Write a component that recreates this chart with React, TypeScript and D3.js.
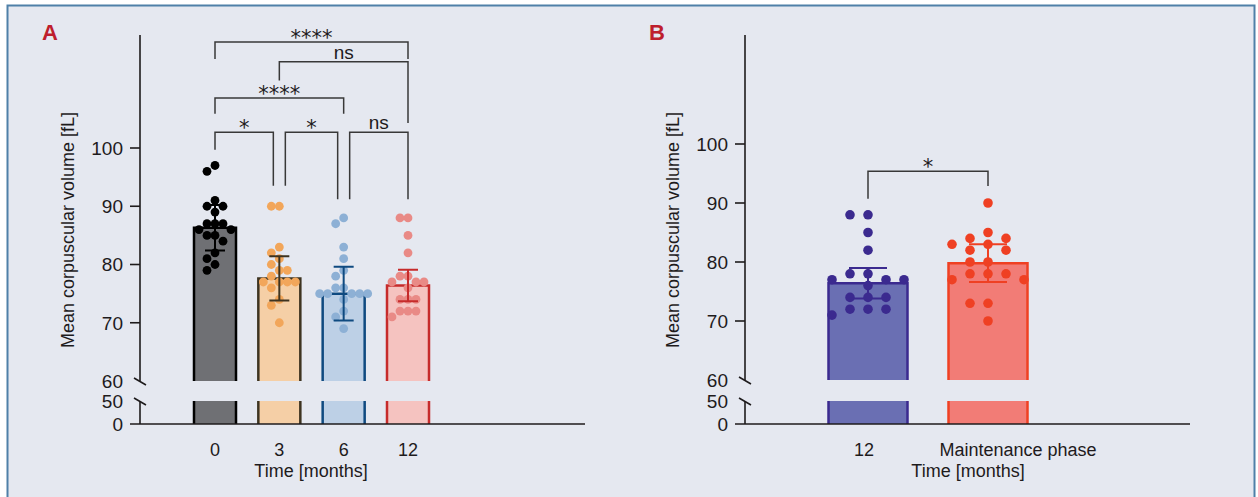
import React from 'react';
import * as d3 from 'd3';

// ---- data (MCV, fL) ----
const groupsA = ['0', '3', '6', '12'];
const mcvMonth0 = [97, 96, 91, 90, 90, 89, 87, 87, 87, 86, 86, 85, 85, 84, 82, 81, 80, 79];
const mcvMonth3 = [90, 90, 83, 82, 81, 80, 79, 79, 78, 77, 77, 77, 77, 76, 74, 73, 70];
const mcvMonth6 = [88, 87, 83, 81, 79, 78, 76, 76, 75, 75, 75, 75, 75, 74, 72, 71, 69];
const mcvMonth12 = [88, 88, 85, 82, 78, 78, 77, 77, 77, 76, 74, 74, 74, 72, 72, 72, 71];
const meansA = [86.3, 77.6, 75.0, 76.4];
const sdA = [3.9, 3.8, 4.6, 2.7];

const groupsB = ['12', 'Maintenance phase'];
const mcvMaintenance = [90, 85, 84, 84, 83, 83, 82, 82, 80, 80, 78, 78, 78, 77, 77, 73, 73, 70];
const meansB = [76.4, 79.8];
const sdB = [2.6, 3.2];

const ticksUpper = [60, 70, 80, 90, 100];
const ticksLower = [0, 50];

// significance brackets: pair of groups, label, bar height and leg ends (fL)
const compPairsA = [[0, 3], [1, 3], [0, 2], [0, 1], [1, 2], [2, 3]];
const compLabelsA = ['****', 'ns', '****', '*', '*', 'ns'];
const compLevelsA = [118.2, 114.8, 108.6, 102.7, 102.7, 102.7];
const compLegsA = [[115.3, 115.3], [111.6, 104.3], [105.9, 105.9], [99.7, 93.5], [93.5, 91.2], [91.2, 91.2]];

const compPairsB = [[0, 1]];
const compLabelsB = ['*'];
const compLevelsB = [95.4];
const compLegsB = [[90.7, 92.9]];

const FONT = '"Liberation Sans", Arial, sans-serif';
const INK = '#1e1b1c';

function swarm(vals, cx, y, step, rowGap) {
  const sorted = [...vals].sort((a, b) => b - a);
  const placed = [];
  const h = step / 2;
  for (const v of sorted) {
    const py = y(v);
    for (let k = 0; k < 60; k++) {
      const off = k === 0 ? 0 : (k % 2 ? -1 : 1) * Math.ceil(k / 2) * h;
      const px = cx + off;
      const free = placed.every(p => Math.abs(p.x - px) >= step * 0.95 || Math.abs(p.y - py) >= rowGap);
      if (free) { placed.push({ x: px, y: py }); break; }
    }
  }
  return placed;
}

function Panel({ cfg }) {
  const { x, yU, yL, axisX, axisStart, axisEnd, axisTop, barW, capW, dotR, step, rowGap,
    groups, series, means, sds, styles, comps, letter, letterX, yLabelX, xLabelX, tickDx } = cfg;

  const breakU = yU(60);
  const breakL = yL(50);
  const axisY = yL(0);

  // bracket end x, nudged apart where two brackets on one level meet at a bar
  const endX = (ci, gi, isRight) => {
    const lvl = comps.levels[ci];
    const shared = comps.pairs.some((p, j) => j !== ci && comps.levels[j] === lvl && (isRight ? p[0] === gi : p[1] === gi));
    return x(groups[gi]) + (shared ? (isRight ? -6 : 6) : 0);
  };

  return (
    <g>
      <text x={letterX} y={40} fill="#be1e2d" fontFamily={FONT} fontWeight="bold" fontSize={22}>{letter}</text>

      {/* bars */}
      {groups.map((g, i) => {
        const cx = x(g);
        const st = styles[i];
        const top = yU(means[i]);
        return (
          <g key={'bar' + g}>
            <rect x={cx - barW / 2} y={top} width={barW} height={breakU - top} fill={st.fill} />
            <rect x={cx - barW / 2} y={breakL} width={barW} height={axisY - breakL} fill={st.fill} />
            <path d={`M${cx - barW / 2},${breakU}V${top}H${cx + barW / 2}V${breakU}`} fill="none" stroke={st.line} strokeWidth={2.5} />
            <path d={`M${cx - barW / 2},${breakL}V${axisY}M${cx + barW / 2},${breakL}V${axisY}`} fill="none" stroke={st.line} strokeWidth={2.5} />
          </g>
        );
      })}

      {/* dots */}
      {groups.map((g, i) => swarm(series[i], x(g), yU, step, rowGap).map((p, j) => (
        <circle key={'d' + g + j} cx={p.x} cy={p.y} r={dotR} fill={styles[i].dot} />
      )))}

      {/* error bars */}
      {groups.map((g, i) => {
        const cx = x(g);
        const hi = yU(means[i] + sds[i]);
        const lo = yU(means[i] - sds[i]);
        return (
          <path key={'e' + g}
            d={`M${cx},${lo}V${hi}M${cx - capW / 2},${hi}H${cx + capW / 2}M${cx - capW / 2},${lo}H${cx + capW / 2}`}
            fill="none" stroke={styles[i].line} strokeWidth={2} />
        );
      })}

      {/* brackets */}
      {comps.pairs.map((p, ci) => {
        const x1 = endX(ci, p[0], false);
        const x2 = endX(ci, p[1], true);
        const ly = yU(comps.levels[ci]);
        const label = comps.labels[ci];
        const isStar = label.includes('*');
        return (
          <g key={'c' + ci}>
            <path d={`M${x1},${yU(comps.legs[ci][0])}V${ly}H${x2}V${yU(comps.legs[ci][1])}`}
              fill="none" stroke="#383838" strokeWidth={1.5} />
            <text x={(x1 + x2) / 2} y={isStar ? ly + 3 : ly - 3} textAnchor="middle" fill={INK}
              fontFamily={isStar ? '"DejaVu Sans", sans-serif' : FONT} fontSize={isStar ? 21 : 19}>{label}</text>
          </g>
        );
      })}

      {/* y axis */}
      <path d={`M${axisX},${axisTop}V${breakU}`} stroke={INK} strokeWidth={1.6} fill="none" />
      <path d={`M${axisX},${breakL}V${axisY}`} stroke={INK} strokeWidth={1.6} fill="none" />
      <path d={`M${axisX - 6},${breakU - 3}L${axisX + 6},${breakU + 4}M${axisX - 6},${breakL - 3}L${axisX + 6},${breakL + 4}`}
        stroke={INK} strokeWidth={1.6} fill="none" />
      {ticksUpper.filter(t => t !== 60).map(t => (
        <line key={'tu' + t} x1={axisX - 10} x2={axisX} y1={yU(t)} y2={yU(t)} stroke={INK} strokeWidth={1.6} />
      ))}
      {ticksUpper.map(t => (
        <text key={'lu' + t} x={axisX - 17} y={yU(t)} dy="0.36em" textAnchor="end" fill={INK} fontFamily={FONT} fontSize={19}>{t}</text>
      ))}
      {ticksLower.map(t => (
        <text key={'ll' + t} x={axisX - 17} y={yL(t)} dy="0.36em" textAnchor="end" fill={INK} fontFamily={FONT} fontSize={19}>{t}</text>
      ))}
      <text transform={`translate(${yLabelX},230) rotate(-90)`} textAnchor="middle" dy="0.35em" fill={INK}
        fontFamily={FONT} fontSize={18}>Mean corpuscular volume [fL]</text>

      {/* x axis */}
      <line x1={axisStart} x2={axisEnd} y1={axisY} y2={axisY} stroke={INK} strokeWidth={1.6} />
      {groups.map((g, i) => (
        <text key={'xl' + g} x={x(g) + tickDx[i]} y={456} textAnchor="middle" fill={INK} fontFamily={FONT} fontSize={18}>{g}</text>
      ))}
      <text x={xLabelX} y={477} textAnchor="middle" fill={INK} fontFamily={FONT} fontSize={18}>Time [months]</text>
    </g>
  );
}

export default function App() {
  const W = 1258;
  const H = 497;

  const panelA = {
    letter: 'A', letterX: 42, yLabelX: 68, xLabelX: 311,
    groups: groupsA,
    x: d3.scalePoint().domain(groupsA).range([215, 408]),
    yU: d3.scaleLinear().domain([60, 100]).range([381, 148]),
    yL: d3.scaleLinear().domain([0, 50]).range([424, 401]),
    axisX: 140, axisStart: 130, axisEnd: 585, axisTop: 35,
    barW: 42, capW: 20, dotR: 4.4, step: 8, rowGap: 10,
    series: [mcvMonth0, mcvMonth3, mcvMonth6, mcvMonth12],
    means: meansA, sds: sdA,
    tickDx: [0, 0, 0, 0],
    styles: [
      { fill: '#6f7074', line: '#000000', dot: '#000000' },
      { fill: '#f5cfa6', line: '#3d3320', dot: '#f2a65a' },
      { fill: '#bdd0e6', line: '#0f4a80', dot: '#8db0d5' },
      { fill: '#f5c3c0', line: '#c62b2b', dot: '#e98a86' },
    ],
    comps: { pairs: compPairsA, labels: compLabelsA, levels: compLevelsA, legs: compLegsA },
  };

  const panelB = {
    letter: 'B', letterX: 649, yLabelX: 673, xLabelX: 968,
    groups: groupsB,
    x: d3.scalePoint().domain(groupsB).range([868, 988]),
    yU: d3.scaleLinear().domain([60, 100]).range([380, 144]),
    yL: d3.scaleLinear().domain([0, 50]).range([424, 401]),
    axisX: 745, axisStart: 735, axisEnd: 1190, axisTop: 35,
    barW: 79, capW: 38, dotR: 4.8, step: 18, rowGap: 10.5,
    series: [mcvMonth12, mcvMaintenance],
    means: meansB, sds: sdB,
    tickDx: [-4, 30],
    styles: [
      { fill: '#6a6fb3', line: '#3b2a8f', dot: '#3b2a8f' },
      { fill: '#f27c76', line: '#ef4023', dot: '#ef4023' },
    ],
    comps: { pairs: compPairsB, labels: compLabelsB, levels: compLevelsB, legs: compLegsB },
  };

  return (
    <svg width={W} height={H} style={{ position: 'absolute', left: 0, top: 0, background: '#ffffff' }}>
      <rect x={7.5} y={5.5} width={1247} height={510} fill="#e5e8f0" stroke="#4f80a8" strokeWidth={2} />
      <Panel cfg={panelA} />
      <Panel cfg={panelB} />
    </svg>
  );
}
